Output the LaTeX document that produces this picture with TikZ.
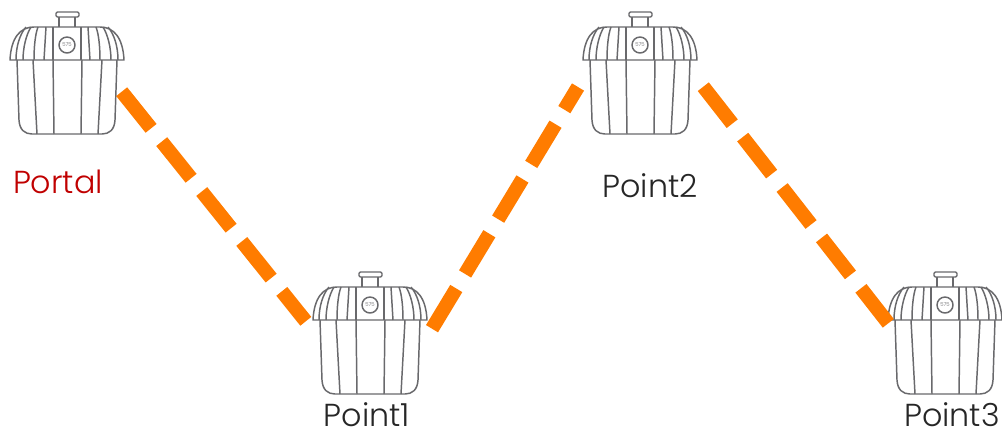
\documentclass[tikz,border=0pt]{standalone}
\usepackage{fontspec}
\setmainfont{Poppins Light}
\usetikzlibrary{positioning}
\definecolor{LinkOrange}{RGB}{255,124,0}
\definecolor{ApGray}{RGB}{105,105,108}
\definecolor{PortalRed}{RGB}{192,0,0}
\definecolor{PointBlack}{RGB}{38,38,38}
\tikzset{
  ap/line/.style={draw=ApGray, line width=1.05pt, line join=round},
  ap/link/.style={draw=LinkOrange, line width=10pt, dash pattern=on 33.4pt off 12.1pt},
  ap/label/.style={font=\fontsize{22.6}{24}\selectfont, text=PointBlack, inner sep=0pt},
  ap/portal/.style={ap/label, text=PortalRed},
  ap/unit/.pic={
    % cap and neck
    \draw[ap/line, rounded corners=1pt] (-11,-48) rectangle (12,-43);
    \draw[ap/line] (-8,-43) -- (-8,-33) (8,-43) -- (8,-33);
    % dome
    \draw[ap/line] (-57,0) .. controls (-56,-22) and (-47,-33) .. (-33,-33)
      -- (33,-33) .. controls (47,-33) and (56,-22) .. (57,0) -- cycle;
    \draw[ap/line] (-51,0) .. controls (-51,-14) and (-47,-26) .. (-41,-33);
    \draw[ap/line] (-44,0) .. controls (-44,-12) and (-41,-25) .. (-36,-33);
    \draw[ap/line] (-33,0) .. controls (-33,-12) and (-32,-25) .. (-29,-33);
    \draw[ap/line] (-23,0) -- (-21,-33);
    \draw[ap/line] (-14,0) -- (-14,-33) (14,0) -- (14,-33);
    \draw[ap/line] (23,0) -- (21,-33);
    \draw[ap/line] (33,0) .. controls (33,-12) and (32,-25) .. (29,-33);
    \draw[ap/line] (44,0) .. controls (44,-12) and (41,-25) .. (36,-33);
    \draw[ap/line] (51,0) .. controls (51,-14) and (47,-26) .. (41,-33);
    \draw[ap/line] (0,-15) circle (8);
    \node[text=ApGray, font=\fontsize{3.8}{4}\selectfont, inner sep=0pt] at (0,-15) {575};
    % body
    \draw[ap/line] (-50,0) -- (-48,60) .. controls (-47.5,70) and (-42,74) .. (-35,74)
      -- (35,74) .. controls (42,74) and (47.5,70) .. (48,60) -- (50,0);
    \draw[ap/line] (-34,0) -- (-30,74) (-14,0) -- (-13,74)
      (15,0) -- (14,74) (35,0) -- (31,74);
  }
}
\begin{document}
\begin{tikzpicture}[x=0.025cm,y=-0.025cm]
  \useasboundingbox (0,0) rectangle (1002,428);
  \pic at (67,60) {ap/unit};
  \pic at (370,320) {ap/unit};
  \pic at (640,60) {ap/unit};
  \pic at (945,320) {ap/unit};
  \node[ap/portal] (portal) at (58,181.5) {Portal};
  \node[ap/label] (point1) at (367,414.5) {Point1};
  \node[ap/label] (point2) at (650,186) {Point2};
  \node[ap/label] (point3) at (952,414.5) {Point3};
  \coordinate (portalout) at (121.7,91.7);
  \coordinate (point1in) at (305.8,321.3);
  \coordinate (point1out) at (432,328.7);
  \coordinate (point2in) at (578,87);
  \coordinate (point2out) at (703.3,86.7);
  \coordinate (point3in) at (888.3,323.3);
  \draw[ap/link] (portalout) -- (point1in);
  \draw[ap/link] (point1out) -- (point2in);
  \draw[ap/link] (point2out) -- (point3in);
\end{tikzpicture}
\end{document}
